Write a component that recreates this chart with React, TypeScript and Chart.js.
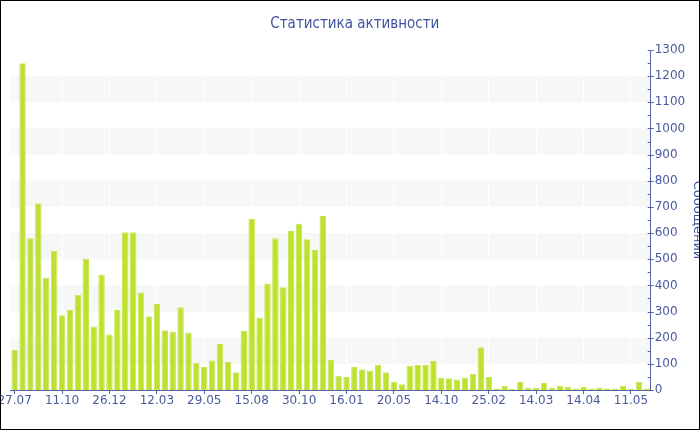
import React, { useEffect, useRef } from "react";
import { Chart, registerables } from "chart.js";

Chart.register(...registerables);

const chartTitle = "Статистика активности";
const axisTitle = "Сообщений";
const tickLabels = ["27.07", "11.10", "26.12", "12.03", "29.05", "15.08", "30.10", "16.01", "20.05", "14.10", "25.02", "14.03", "14.04", "11.05"];
const labelEvery = 6;
const messages = [
  153, 1249, 580, 714, 429, 531, 286, 306, 364, 503, 243, 442, 212, 306, 603, 603, 373, 282, 329, 228,
  224, 316, 220, 103, 88, 113, 176, 107, 68, 226, 654, 277, 407, 580, 393, 608, 636, 576, 535, 665,
  115, 54, 50, 88, 79, 75, 97, 68, 32, 22, 93, 96, 97, 111, 47, 45, 40, 48, 61, 163,
  50, 6, 15, 4, 31, 9, 9, 27, 8, 15, 11, 6, 11, 6, 9, 6, 6, 16, 5, 31, 6,
];
const yMax = 1300;
const yStep = 100;
const yMinorStep = 50;

const categories = messages.map((_, i) => (i % labelEvery === 0 ? tickLabels[i / labelEvery] || "" : ""));

const BLUE_TEXT = "#4a5a9e";
const BLUE_LINE = "#5464a4";

const bandsPlugin = {
  id: "bands",
  beforeDraw(chart: any) {
    const { ctx, chartArea, scales } = chart;
    const y = scales.y;
    ctx.save();
    ctx.fillStyle = "#f7f7f7";
    for (let v = yStep; v + yStep <= yMax; v += 2 * yStep) {
      const top = y.getPixelForValue(v + yStep);
      const bottom = y.getPixelForValue(v);
      ctx.fillRect(chartArea.left, top, chartArea.right - chartArea.left, bottom - top);
    }
    ctx.restore();
  },
  afterDraw(chart: any) {
    const { ctx, scales } = chart;
    const y = scales.y;
    ctx.save();
    ctx.strokeStyle = BLUE_LINE;
    ctx.lineWidth = 1;
    for (let v = 0; v <= yMax; v += yMinorStep) {
      const py = Math.round(y.getPixelForValue(v)) + 0.5;
      const major = v % yStep === 0;
      ctx.beginPath();
      ctx.moveTo(y.left - 3, py);
      ctx.lineTo(major ? y.left + 3 : y.left, py);
      ctx.stroke();
    }
    ctx.restore();
  },
};

export default function App() {
  const ref = useRef<HTMLCanvasElement>(null);
  useEffect(() => {
    if (!ref.current) return;
    const chart = new Chart(ref.current, {
      type: "bar",
      data: {
        labels: categories,
        datasets: [
          {
            label: axisTitle,
            data: messages,
            backgroundColor: "#bde12e",
            borderColor: "#c8e65a",
            borderWidth: 1,
            barPercentage: 0.82,
            categoryPercentage: 1,
          },
        ],
      },
      options: {
        animation: false,
        responsive: false,
        layout: { padding: { left: 9.7, right: 0, top: 0, bottom: 0 } },
        plugins: {
          legend: { display: false },
          tooltip: { enabled: false },
          title: {
            display: true,
            text: chartTitle,
            color: "#4053a0",
            font: { family: "'DejaVu Sans Condensed', 'DejaVu Sans'", size: 15, weight: "normal", lineHeight: 1.2 },
            padding: { top: 13.7, bottom: 17.3 },
          },
        },
        scales: {
          x: {
            grid: {
              offset: false,
              drawOnChartArea: true,
              drawTicks: true,
              tickLength: 4,
              color: (c: any) => (c.index % labelEvery === 0 ? "rgba(255,255,255,1)" : "rgba(0,0,0,0)"),
              tickColor: (c: any) => (c.index % labelEvery === 0 ? BLUE_LINE : "rgba(0,0,0,0)"),
            },
            border: { display: true, color: BLUE_LINE, width: 1 },
            ticks: {
              autoSkip: false,
              maxRotation: 0,
              minRotation: 0,
              padding: 0,
              color: BLUE_TEXT,
              font: { family: "'DejaVu Sans'", size: 12 },
            },
            afterFit: (s: any) => {
              s.height = 39;
              s.paddingLeft = 0;
              s.paddingRight = 0;
            },
          },
          y: {
            position: "right",
            min: 0,
            max: yMax,
            grid: { display: false, drawTicks: false },
            border: { display: true, color: BLUE_LINE, width: 1 },
            ticks: {
              stepSize: yStep,
              padding: 4,
              color: BLUE_TEXT,
              font: { family: "'DejaVu Sans'", size: 12 },
              callback: (v: any) => String(v),
            },
            title: {
              display: true,
              text: axisTitle,
              color: "#4053a0",
              font: { family: "'DejaVu Sans'", size: 13, lineHeight: 1.2 },
              padding: { top: -6, bottom: 0 },
            },
            afterFit: (s: any) => {
              s.width = 48.3;
            },
          },
        },
      },
      plugins: [bandsPlugin],
    });
    return () => chart.destroy();
  }, []);
  return (
    <div
      style={{
        position: "absolute",
        left: 0,
        top: 0,
        width: 700,
        height: 430,
        border: "1px solid #000",
        boxSizing: "border-box",
        overflow: "hidden",
        background: "#fff",
      }}
    >
      <canvas ref={ref} width={698} height={428} style={{ display: "block", width: 698, height: 428 }} />
    </div>
  );
}
